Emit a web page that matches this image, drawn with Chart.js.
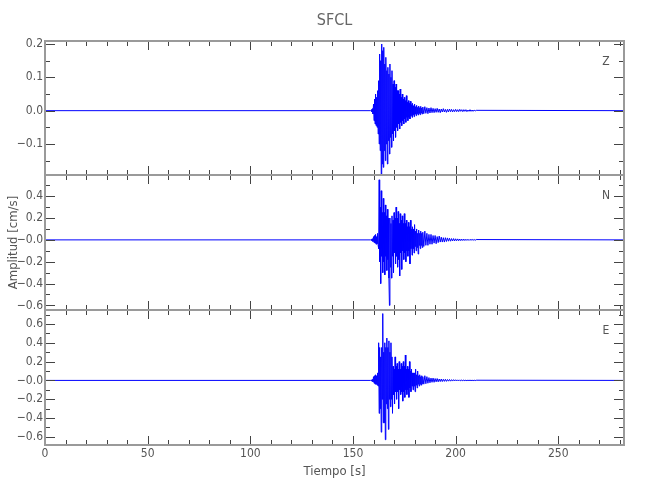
<!DOCTYPE html>
<html><head><meta charset="utf-8">
<script src="https://cdn.jsdelivr.net/npm/chart.js@4.4.0/dist/chart.umd.min.js"></script>
<style>
html,body{margin:0;padding:0;background:#fff;}
#wrap{position:relative;width:650px;height:500px;background:#fff;}
#wrap canvas{position:absolute;left:0;top:0;}
</style></head><body>
<div id="wrap">
<canvas id="cZ" width="650" height="500"></canvas>
<canvas id="cN" width="650" height="500"></canvas>
<canvas id="cE" width="650" height="500"></canvas>
</div>
<script>
// ---- data ----
const TITLE = 'SFCL';
const X_TITLE = 'Tiempo [s]';
const Y_TITLE = 'Amplitud [cm/s]';
const X_MIN = 0, X_MAX = 282;
const xMajor = [0, 50, 100, 150, 200, 250];
const xLabels = ['0', '50', '100', '150', '200', '250'];

// sample grid of the event window
const DENSE_START = 159.0, DENSE_STEP = 0.25;   // 159.0 .. 184.0
const SPARSE_START = 184.5, SPARSE_STEP = 0.5;  // 184.5 .. 210.0
const baseTimes = [0, 158.5];   // quiet pre-event samples (value 0)
const endTime = 282;            // quiet tail (value 0)

const ampZdense = [
  0.003,-0.004,0.006,-0.01,0.02,-0.03,0.035,-0.04,
  0.05,-0.045,0.04,-0.05,0.06,-0.07,0.09,-0.10,
  0.17,-0.12,0.15,-0.19,0.20,-0.16,0.18,-0.17,
  0.19,-0.12,0.14,-0.15,0.16,-0.10,0.12,-0.16,
  0.13,-0.09,0.11,-0.13,0.14,-0.08,0.10,-0.11,
  0.12,-0.07,0.08,-0.09,0.09,-0.06,0.07,-0.08,
  0.08,-0.05,0.06,-0.06,0.06,-0.04,0.05,-0.055,
  0.065,-0.035,0.04,-0.045,0.05,-0.03,0.035,-0.04,
  0.04,-0.025,0.03,-0.035,0.045,-0.02,0.025,-0.03,
  0.03,-0.02,0.022,-0.025,0.028,-0.015,0.018,-0.02,
  0.022,-0.012,0.015,-0.018,0.02,-0.01,0.012,-0.015,
  0.016,-0.009,0.01,-0.013,0.014,-0.008,0.009,-0.012,
  0.013,-0.007,0.008,-0.01,0.011
];
const ampZsparse = [
  -0.009,0.012,-0.008,0.009,-0.009,0.008,-0.007,0.009,-0.006,
  0.007,-0.006,0.006,-0.005,0.007,-0.005,0.005,-0.006,0.005,-0.004,
  0.006,-0.004,0.004,-0.005,0.004,-0.004,0.005,-0.003,0.004,-0.004,
  0.003,-0.003,0.004,-0.003,0.003,-0.003,0.004,-0.002,0.003,-0.003,
  0.003,-0.002,0.003,-0.003,0.002,-0.002,0.003,-0.002,0.002,-0.002,
  0.002,-0.001,0.001
];

const ampNdense = [
  0.005,-0.008,0.01,-0.015,0.03,-0.025,0.04,-0.03,
  0.05,-0.04,0.03,-0.035,0.06,-0.05,-0.08,0.55,
  -0.20,0.30,-0.40,0.45,-0.15,0.25,-0.30,0.38,
  -0.20,0.25,-0.32,0.32,-0.15,0.22,-0.28,0.28,
  -0.18,0.20,-0.35,-0.60,0.20,-0.25,0.15,-0.35,
  0.22,-0.15,0.18,-0.30,0.25,-0.12,0.20,-0.22,
  0.30,-0.15,0.20,-0.25,0.26,-0.18,0.15,-0.33,
  0.24,-0.12,0.18,-0.27,0.22,-0.10,0.15,-0.18,
  0.24,-0.12,0.15,-0.20,0.18,-0.10,0.12,-0.15,
  0.16,-0.10,0.12,-0.22,0.18,-0.08,0.10,-0.14,
  0.12,-0.08,0.10,-0.12,0.14,-0.06,0.08,-0.10,
  0.10,-0.07,0.06,-0.13,0.09,-0.05,0.06,-0.08,
  0.08,-0.05,0.06,-0.07,0.07
];
const ampNsparse = [
  -0.06,0.08,-0.05,0.06,-0.05,0.05,-0.04,0.05,-0.04,
  0.04,-0.03,0.04,-0.035,0.03,-0.025,0.035,-0.02,0.025,-0.02,
  0.02,-0.02,0.02,-0.015,0.018,-0.012,0.015,-0.012,0.012,-0.01,
  0.012,-0.01,0.01,-0.008,0.009,-0.008,0.008,-0.007,0.007,-0.006,
  0.007,-0.006,0.006,-0.005,0.006,-0.005,0.005,-0.004,0.005,-0.004,
  0.004,-0.004,0.003
];

const ampEdense = [
  0.005,-0.008,0.01,-0.015,0.04,-0.03,0.05,-0.04,
  0.06,-0.04,0.05,-0.05,0.08,-0.06,0.40,-0.35,
  0.35,-0.30,0.25,-0.55,0.35,-0.20,0.71,-0.45,
  0.30,-0.45,0.40,-0.63,0.35,-0.25,0.45,-0.30,
  0.35,-0.52,0.42,-0.20,0.30,-0.28,0.40,-0.20,
  0.25,-0.35,0.15,-0.15,0.12,-0.25,0.25,-0.12,
  0.15,-0.20,0.18,-0.12,0.12,-0.30,0.20,-0.10,
  0.12,-0.15,0.18,-0.12,0.15,-0.22,0.20,-0.12,
  0.15,-0.18,0.27,-0.10,0.12,-0.15,0.15,-0.10,
  0.12,-0.18,0.20,-0.08,0.10,-0.12,0.12,-0.06,
  0.08,-0.10,0.08,-0.06,0.08,-0.12,0.12,-0.05,
  0.06,-0.08,0.10,-0.04,0.05,-0.06,0.06,-0.04,
  0.04,-0.05,0.05,-0.035,0.04
];
const ampEsparse = [
  -0.04,0.05,-0.035,0.04,-0.03,0.03,-0.025,0.025,-0.02,
  0.025,-0.02,0.02,-0.015,0.02,-0.015,0.015,-0.012,0.015,-0.012,
  0.012,-0.01,0.012,-0.01,0.01,-0.008,0.01,-0.008,0.008,-0.007,
  0.008,-0.006,0.007,-0.006,0.006,-0.005,0.006,-0.005,0.005,-0.004,
  0.005,-0.004,0.004,-0.004,0.004,-0.003,0.004,-0.003,0.003,-0.003,
  0.003,-0.002,0.002
];

const yRangeZ = [-0.193, 0.209];
const yTicksZ = [-0.1, 0, 0.1, 0.2];
const yLabelsZ = ['\u22120.1', '0.0', '0.1', '0.2'];
const yMinorZ = [-0.15, -0.05, 0.05, 0.15];

const yRangeN = [-0.642, 0.594];
const yTicksN = [-0.6, -0.4, -0.2, 0, 0.2, 0.4];
const yLabelsN = ['\u22120.6', '\u22120.4', '\u22120.2', '\u22120.0', '0.2', '0.4'];
const yMinorN = [-0.5, -0.3, -0.1, 0.1, 0.3, 0.5];

const yRangeE = [-0.686, 0.748];
const yTicksE = [-0.6, -0.4, -0.2, 0, 0.2, 0.4, 0.6];
const yLabelsE = ['\u22120.6', '\u22120.4', '\u22120.2', '\u22120.0', '0.2', '0.4', '0.6'];
const yMinorE = [-0.5, -0.3, -0.1, 0.1, 0.3, 0.5, 0.7];

// ---- drawing ----
const FONT = "'Liberation Sans Narrow', 'DejaVu Sans Condensed', 'Liberation Sans', sans-serif";
const TXT = '#555';

function buildPoints(dense, sparse) {
  const pts = baseTimes.map(t => ({x: t, y: 0}));
  dense.forEach((v, i) => pts.push({x: DENSE_START + i * DENSE_STEP, y: v}));
  sparse.forEach((v, i) => pts.push({x: SPARSE_START + i * SPARSE_STEP, y: v}));
  pts.push({x: endTime, y: 0});
  return pts;
}

const framePlugin = {
  id: 'frame',
  afterDatasetsDraw(chart, args, o) {
    const {ctx, chartArea: a} = chart;
    const xs = chart.scales.x, ys = chart.scales.y;
    ctx.save();
    ctx.strokeStyle = '#444';
    ctx.lineWidth = 1;
    ctx.beginPath();
    const xTick = (v, len) => {
      const px = Math.round(xs.getPixelForValue(v)) + 0.5;
      ctx.moveTo(px, a.top); ctx.lineTo(px, a.top + len);
      ctx.moveTo(px, a.bottom); ctx.lineTo(px, a.bottom - len);
    };
    xMajor.forEach(v => xTick(v, 9));
    for (let v = 10; v < X_MAX; v += 10) { if (v % 50 !== 0) xTick(v, 5); }
    const yTick = (v, len) => {
      if (v <= ys.min || v >= ys.max) return;
      const py = Math.round(ys.getPixelForValue(v)) + 0.5;
      ctx.moveTo(a.left, py); ctx.lineTo(a.left + len, py);
      ctx.moveTo(a.right, py); ctx.lineTo(a.right - len, py);
    };
    o.major.forEach(v => yTick(v, 10));
    o.minor.forEach(v => yTick(v, 5));
    ctx.stroke();
    ctx.strokeStyle = '#9a9a9a';
    ctx.lineWidth = 2;
    ctx.strokeRect(a.left, a.top, a.right - a.left, a.bottom - a.top);
    ctx.fillStyle = TXT;
    ctx.font = '12px ' + FONT;
    ctx.textAlign = 'center';
    ctx.textBaseline = 'middle';
    ctx.fillText(o.letter, a.right - 18, a.top + 20.5);
    ctx.restore();
  }
};

function makeChart(id, dense, sparse, range, ticks, labels, minor, letter, cfg) {
  const showX = !!cfg.showX;
  return new Chart(document.getElementById(id), {
    type: 'line',
    data: {datasets: [{data: buildPoints(dense, sparse), borderColor: '#0000ff', borderWidth: 1,
      pointRadius: 0, tension: 0, fill: false}]},
    plugins: [framePlugin],
    options: {
      responsive: false, animation: false, events: [],
      layout: {padding: {left: 0, right: 26, top: cfg.top, bottom: cfg.bottom}},
      plugins: {
        legend: {display: false}, tooltip: {enabled: false},
        title: cfg.title ? {display: true, text: TITLE, fullSize: false, color: '#666',
          font: {family: FONT, size: 16, weight: 'normal'}, padding: {top: 11, bottom: 10.8}} : {display: false},
        frame: {major: ticks, minor: minor, letter: letter}
      },
      scales: {
        x: {
          type: 'linear', min: X_MIN, max: X_MAX, display: showX,
          afterBuildTicks: s => { s.ticks = xMajor.map(v => ({value: v})); },
          afterFit: s => { if (showX) s.height = 55; },
          grid: {display: false, drawTicks: false}, border: {display: false},
          ticks: {autoSkip: false, maxRotation: 0, padding: 2, color: TXT,
            font: {family: FONT, size: 12},
            callback: v => xLabels[xMajor.indexOf(v)]},
          title: {display: showX, text: X_TITLE, color: TXT, font: {family: FONT, size: 13},
            padding: {top: 0, bottom: 21}}
        },
        y: {
          type: 'linear', min: range[0], max: range[1],
          afterBuildTicks: s => { s.ticks = ticks.map(v => ({value: v})); },
          afterFit: s => { s.width = 45; },
          grid: {display: false, drawTicks: false}, border: {display: false},
          ticks: {autoSkip: false, padding: 2, color: TXT, font: {family: FONT, size: 12},
            callback: v => labels[ticks.indexOf(v)]},
          title: {display: !!cfg.yTitle, text: Y_TITLE, color: TXT, font: {family: FONT, size: 13},
            padding: {top: 6, bottom: 0}}
        }
      }
    }
  });
}

makeChart('cZ', ampZdense, ampZsparse, yRangeZ, yTicksZ, yLabelsZ, yMinorZ, 'Z', {top: 0, bottom: 325, title: true});
makeChart('cN', ampNdense, ampNsparse, yRangeN, yTicksN, yLabelsN, yMinorN, 'N', {top: 175, bottom: 190, yTitle: true});
makeChart('cE', ampEdense, ampEsparse, yRangeE, yTicksE, yLabelsE, yMinorE, 'E', {top: 310, bottom: 0, showX: true});
</script>
</body></html>
